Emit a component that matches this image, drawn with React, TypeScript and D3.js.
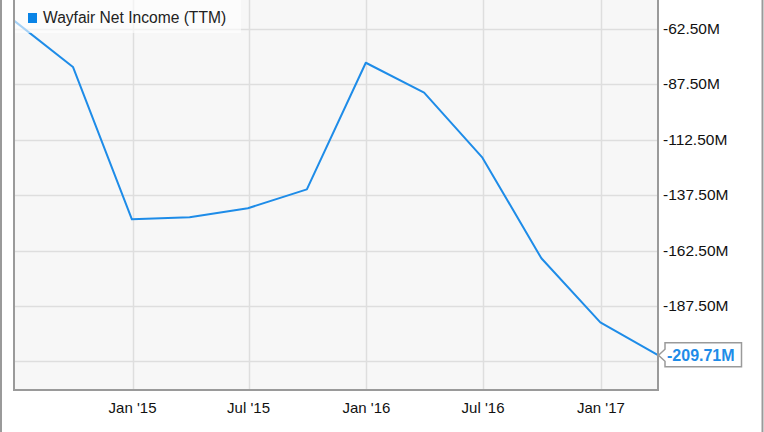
import React from "react";
import * as d3 from "d3";

const seriesName = "Wayfair Net Income (TTM)";
const dates = [
  "2014-06-30", "2014-09-30", "2014-12-31", "2015-03-31", "2015-06-30", "2015-09-30",
  "2015-12-31", "2016-03-31", "2016-06-30", "2016-09-30", "2016-12-31", "2017-03-31",
];
const values = [-58.8, -79.7, -148.4, -147.5, -143.4, -134.9, -77.8, -91.3, -120.6, -166.0, -194.9, -209.71];
const yTicks = [-62.5, -87.5, -112.5, -137.5, -162.5, -187.5, -212.5];
const xTickDates = ["2015-01-01", "2015-07-01", "2016-01-01", "2016-07-01", "2017-01-01"];
const xTickLabels = ["Jan '15", "Jul '15", "Jan '16", "Jul '16", "Jan '17"];
const lastLabel = "-209.71M";

const W = 764;
const H = 432;
const plot = { left: 14, right: 658, top: 0, bottom: 390 };
const LINE = "#1e8ce8";
const FONT = "'Liberation Sans', Arial, sans-serif";

export default function App() {
  const parse = d3.utcParse("%Y-%m-%d");
  const pts = dates.map((d, i) => ({ date: parse(d) as Date, v: values[i] }));
  const x = d3
    .scaleUtc()
    .domain([parse(dates[0]) as Date, parse(dates[dates.length - 1]) as Date])
    .range([plot.left, plot.right]);
  const y = d3.scaleLinear().domain([-225.4, -49.5]).range([plot.bottom, plot.top]);
  const line = d3
    .line<{ date: Date; v: number }>()
    .x((d) => x(d.date))
    .y((d) => y(d.v));
  const last = pts[pts.length - 1];
  const lx = x(last.date);
  const ly = y(last.v);
  const fmt = (v: number) => d3.format(".2f")(v).replace("\u2212", "-") + "M";

  return (
    <svg
      width={W}
      height={H}
      style={{ position: "absolute", left: 0, top: 0, display: "block" }}
    >
      <rect x={0} y={0} width={W} height={H} fill="#ffffff" />
      <line x1={1} x2={1} y1={0} y2={H} stroke="#9a9a9a" strokeWidth={2} />
      <line x1={762.5} x2={762.5} y1={0} y2={H} stroke="#9a9a9a" strokeWidth={2} />
      <rect
        x={plot.left}
        y={plot.top}
        width={plot.right - plot.left}
        height={plot.bottom - plot.top}
        fill="#f7f7f7"
      />
      {yTicks.map((t) => (
        <line
          key={"gy" + t}
          x1={plot.left}
          x2={plot.right}
          y1={Math.round(y(t)) + 0.5}
          y2={Math.round(y(t)) + 0.5}
          stroke="#dedede"
          strokeWidth={1.5}
        />
      ))}
      {xTickDates.map((d) => {
        const xx = Math.round(x(parse(d) as Date)) + 0.5;
        return (
          <line
            key={"gx" + d}
            x1={xx}
            x2={xx}
            y1={plot.top}
            y2={plot.bottom}
            stroke="#dedede"
            strokeWidth={1.5}
          />
        );
      })}
      <path d={line(pts) || ""} fill="none" stroke={LINE} strokeWidth={2} strokeLinejoin="round" />
      <rect x={plot.left} y={0} width={227} height={33} fill="#ffffff" fillOpacity={0.6} />
      <rect x={28} y={13} width={9} height={10} fill="#0a84e6" />
      <text x={43} y={23} fontFamily={FONT} fontSize={15.6} fill="#222">
        {seriesName}
      </text>
      <rect
        x={plot.left}
        y={-2}
        width={plot.right - plot.left}
        height={plot.bottom + 2}
        fill="none"
        stroke="#9a9a9a"
        strokeWidth={2}
      />
      {yTicks
        .filter((t) => Math.abs(y(t) - ly) > 14)
        .map((t) => (
          <text
            key={"ty" + t}
            x={663}
            y={y(t) + 5}
            fontFamily={FONT}
            fontSize={15.5}
            fill="#111"
          >
            {fmt(t)}
          </text>
        ))}
      {xTickDates.map((d, i) => (
        <text
          key={"tx" + d}
          x={x(parse(d) as Date)}
          y={413}
          textAnchor="middle"
          fontFamily={FONT}
          fontSize={15}
          fill="#111"
        >
          {xTickLabels[i]}
        </text>
      ))}
      <path
        d={`M${lx + 0.5},${ly} L${lx + 7},${ly - 6} L${lx + 7},${ly - 12.5} L${741.5},${ly - 12.5} L${741.5},${ly + 11.5} L${lx + 7},${ly + 11.5} L${lx + 7},${ly + 6} Z`}
        fill="#ffffff"
        stroke="#9a9a9a"
        strokeWidth={1.5}
      />
      <text
        x={667}
        y={ly + 6}
        fontFamily={FONT}
        fontSize={16}
        fontWeight="bold"
        fill={LINE}
      >
        {lastLabel}
      </text>
    </svg>
  );
}
